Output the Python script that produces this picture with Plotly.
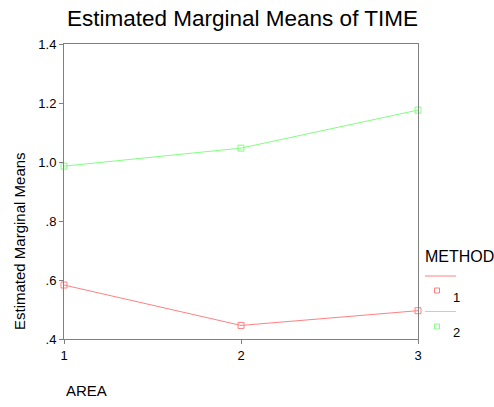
import plotly.graph_objects as go

# Estimated marginal means of TIME by AREA, one line per METHOD
areas = [1, 2, 3]
method_1 = [0.583, 0.446, 0.496]
method_2 = [0.986, 1.047, 1.176]
y_ticks = [0.4, 0.6, 0.8, 1.0, 1.2, 1.4]
y_tick_text = [".4", ".6", ".8", "1.0", "1.2", "1.4"]
x_ticks = [1, 2, 3]

RED = "#ff8080"
GREEN = "#80ff80"
FONT = "Liberation Sans, Arial, sans-serif"

fig = go.Figure()
for vals, col, name in [(method_1, RED, "1"), (method_2, GREEN, "2")]:
    fig.add_trace(go.Scatter(
        x=areas, y=vals, mode="lines+markers", name=name,
        line=dict(color=col, width=1),
        marker=dict(symbol="square-open", size=6, color=col, line=dict(width=1, color=col)),
        cliponaxis=False,
    ))

W, H = 494, 407
L, R, T, B = 64, 418, 44, 339


def px(x):
    return (x - L) / (R - L)


def py(y):
    return (B - y) / (B - T)


axis_common = dict(
    showline=True, linecolor="#808080", linewidth=1, mirror=True,
    ticks="outside", tickcolor="#808080", ticklen=4, showgrid=False,
    zeroline=False, tickfont=dict(family=FONT, size=13, color="black"),
)
fig.update_layout(
    width=W, height=H, autosize=False,
    margin=dict(l=L, r=W - R, t=T, b=H - B),
    paper_bgcolor="white", plot_bgcolor="white",
    showlegend=False,
    xaxis=dict(range=[1, 3], tickvals=x_ticks, ticktext=[str(v) for v in x_ticks], **axis_common),
    yaxis=dict(range=[0.4, 1.4], tickvals=y_ticks, ticktext=y_tick_text, **axis_common),
    font=dict(family=FONT, color="black"),
)

annotations = [
    dict(text="Estimated Marginal Means of TIME", x=px(242), y=py(18), xref="paper", yref="paper",
         showarrow=False, font=dict(size=22.5), xanchor="center", yanchor="middle"),
    dict(text="Estimated Marginal Means", x=px(19), y=py(241), xref="paper", yref="paper",
         showarrow=False, font=dict(size=15), textangle=-90, xanchor="center", yanchor="middle"),
    dict(text="AREA", x=px(64), y=py(390), xref="paper", yref="paper",
         showarrow=False, font=dict(size=15), xanchor="left", yanchor="middle"),
    dict(text="METHOD", x=px(423), y=py(256), xref="paper", yref="paper",
         showarrow=False, font=dict(size=16), xanchor="left", yanchor="middle"),
    dict(text="1", x=px(451), y=py(297), xref="paper", yref="paper",
         showarrow=False, font=dict(size=13), xanchor="left", yanchor="middle"),
    dict(text="2", x=px(451), y=py(332), xref="paper", yref="paper",
         showarrow=False, font=dict(size=13), xanchor="left", yanchor="middle"),
]
fig.update_layout(annotations=annotations)

# legend keys: line sample and open square for each method
shapes = []
for col, ly, my in [(RED, 276, 290.5), (GREEN, 311.5, 326.5)]:
    shapes.append(dict(type="line", xref="paper", yref="paper",
                       x0=px(425), x1=px(456), y0=py(ly), y1=py(ly),
                       line=dict(color=col, width=1)))
    shapes.append(dict(type="rect", xref="paper", yref="paper",
                       x0=px(434.5), x1=px(439.5), y0=py(my + 2.5), y1=py(my - 2.5),
                       line=dict(color=col, width=1)))
fig.update_layout(shapes=shapes)

fig.write_html("out.html")
